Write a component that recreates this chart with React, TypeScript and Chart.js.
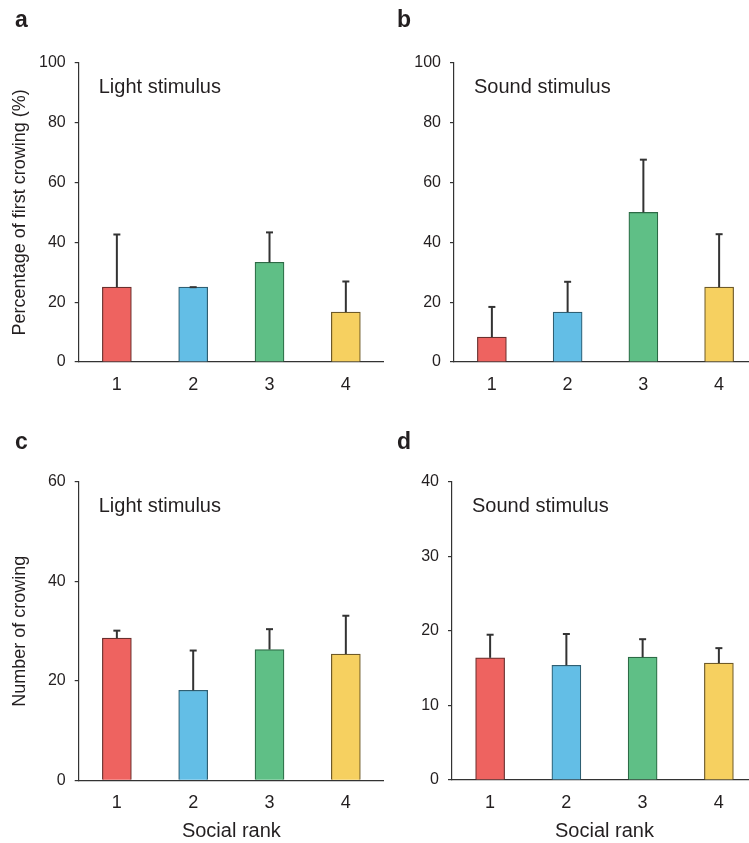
import React, { useEffect, useRef } from "react";
import { Chart, registerables } from "chart.js";

Chart.register(...registerables);

// ---------- data ----------
const socialRanks = ["1", "2", "3", "4"];

const lightFirstPct = [25, 25, 33.3, 16.7];
const lightFirstSem = [17.6, 0, 10, 10.2];

const soundFirstPct = [8.3, 16.7, 50, 25];
const soundFirstSem = [10.1, 10.1, 17.6, 17.7];

const lightCount = [28.6, 18.1, 26.3, 25.4];
const lightCountSem = [1.5, 8.0, 4.1, 7.7];

const soundCount = [16.4, 15.4, 16.5, 15.7];
const soundCountSem = [3.1, 4.2, 2.4, 2.0];

const barColors = ["#EE6360", "#63BEE6", "#5FBF86", "#F6D060"];
const barBorders = ["#6a2f2d", "#2f5f73", "#2c6a45", "#6e5a28"];

const FONT = "'Liberation Sans', Arial, Helvetica, sans-serif";
const INK = "#231f20";

type Panel = {
  letter: string;
  stimulus: string;
  values: number[];
  errors: number[];
  yMax: number;
  yStep: number;
  yTitle?: string;
  xTitle?: string;
  left: number;
  top: number;
  width: number;
  height: number;
  visibleWidth: number;
  axisWidth: number;
  areaTop: number;
  xScaleHeight: number;
};

const panels: Panel[] = [
  {
    letter: "a", stimulus: "Light stimulus", values: lightFirstPct, errors: lightFirstSem,
    yMax: 100, yStep: 20, yTitle: "Percentage of first crowing (%)",
    left: 0, top: 0, width: 384, height: 400, visibleWidth: 384,
    axisWidth: 78.7, areaTop: 62.7, xScaleHeight: 38,
  },
  {
    letter: "b", stimulus: "Sound stimulus", values: soundFirstPct, errors: soundFirstSem,
    yMax: 100, yStep: 20,
    left: 380, top: 0, width: 377, height: 400, visibleWidth: 369,
    axisWidth: 74, areaTop: 62.7, xScaleHeight: 38,
  },
  {
    letter: "c", stimulus: "Light stimulus", values: lightCount, errors: lightCountSem,
    yMax: 60, yStep: 20, yTitle: "Number of crowing", xTitle: "Social rank",
    left: 0, top: 420, width: 384, height: 423, visibleWidth: 384,
    axisWidth: 78.7, areaTop: 62, xScaleHeight: 62.7,
  },
  {
    letter: "d", stimulus: "Sound stimulus", values: soundCount, errors: soundCountSem,
    yMax: 40, yStep: 10, xTitle: "Social rank",
    left: 380, top: 420, width: 377, height: 423, visibleWidth: 369,
    axisWidth: 72, areaTop: 62, xScaleHeight: 63,
  },
];

const errorBarPlugin = {
  id: "errorBars",
  afterDatasetsDraw(chart: any, _args: any, opts: any) {
    const errs: number[] = opts.errors || [];
    const meta = chart.getDatasetMeta(0);
    const yScale = chart.scales.y;
    const data = chart.data.datasets[0].data as number[];
    const ctx = chart.ctx;
    ctx.save();
    ctx.strokeStyle = "#333333";
    ctx.lineWidth = 2;
    meta.data.forEach((bar: any, i: number) => {
      const yTop = yScale.getPixelForValue(data[i] + errs[i]);
      ctx.beginPath();
      ctx.moveTo(bar.x, bar.y);
      ctx.lineTo(bar.x, yTop);
      ctx.stroke();
      ctx.beginPath();
      ctx.moveTo(bar.x - 3.5, yTop);
      ctx.lineTo(bar.x + 3.5, yTop);
      ctx.stroke();
    });
    ctx.restore();
  },
};

const textPlugin = {
  id: "panelText",
  afterDraw(chart: any, _args: any, opts: any) {
    const ctx = chart.ctx;
    const area = chart.chartArea;
    ctx.save();
    ctx.fillStyle = INK;
    ctx.textBaseline = "alphabetic";
    ctx.textAlign = "left";
    ctx.font = `bold 23px ${FONT}`;
    ctx.fillText(opts.letter, opts.letterX, opts.letterY);
    ctx.font = `20px ${FONT}`;
    ctx.fillText(opts.stimulus, area.left + 20, area.top + 30);
    ctx.restore();
  },
};

function PanelChart({ p }: { p: Panel }) {
  const ref = useRef<HTMLCanvasElement | null>(null);
  useEffect(() => {
    if (!ref.current) return;
    const chart = new Chart(ref.current, {
      type: "bar",
      data: {
        labels: socialRanks,
        datasets: [
          {
            data: p.values,
            backgroundColor: barColors,
            borderColor: barBorders,
            borderWidth: 1.2,
            barThickness: 29,
          },
        ],
      },
      plugins: [errorBarPlugin, textPlugin],
      options: {
        responsive: false,
        animation: false,
        devicePixelRatio: 1,
        layout: { padding: { top: p.areaTop, left: 0, right: 0, bottom: 0 } },
        plugins: {
          legend: { display: false },
          tooltip: { enabled: false },
          errorBars: { errors: p.errors },
          panelText: {
            letter: p.letter,
            stimulus: p.stimulus,
            letterX: p.left === 0 ? 15 : 17,
            letterY: p.top === 0 ? 26.5 : 28.5,
          },
        } as any,
        scales: {
          x: {
            grid: { display: false },
            border: { display: true, color: "#333333", width: 1.2 },
            ticks: { color: INK, font: { family: FONT, size: 18 }, padding: 4 },
            title: {
              display: !!p.xTitle,
              text: p.xTitle || "",
              color: INK,
              font: { family: FONT, size: 20 },
              padding: { top: 0, bottom: 0 },
            },
            afterFit: (s: any) => {
              s.height = p.xScaleHeight;
            },
          },
          y: {
            min: 0,
            max: p.yMax,
            ticks: {
              stepSize: p.yStep,
              color: INK,
              font: { family: FONT, size: 16 },
              padding: 9,
            },
            grid: {
              display: true,
              drawOnChartArea: false,
              drawTicks: true,
              tickLength: 4,
              color: "#333333",
              lineWidth: 1.2,
            },
            border: { display: true, color: "#333333", width: 1.2 },
            title: {
              display: !!p.yTitle,
              text: p.yTitle || "",
              color: INK,
              font: { family: FONT, size: 18 },
              padding: { top: 9.5, bottom: 0 },
            },
            afterFit: (s: any) => {
              s.width = p.axisWidth;
            },
          },
        },
      } as any,
    });
    return () => chart.destroy();
  }, [p]);
  return (
    <div
      style={{
        position: "absolute",
        left: p.left,
        top: p.top,
        width: p.visibleWidth,
        height: p.height,
        overflow: "hidden",
      }}
    >
      <canvas
        ref={ref}
        width={p.width}
        height={p.height}
        style={{ width: p.width, height: p.height, display: "block" }}
      />
    </div>
  );
}

export default function App() {
  return (
    <div
      style={{
        position: "absolute",
        left: 0,
        top: 0,
        width: 749,
        height: 843,
        overflow: "hidden",
        background: "#ffffff",
      }}
    >
      {panels.map((p) => (
        <PanelChart key={p.letter} p={p} />
      ))}
    </div>
  );
}
